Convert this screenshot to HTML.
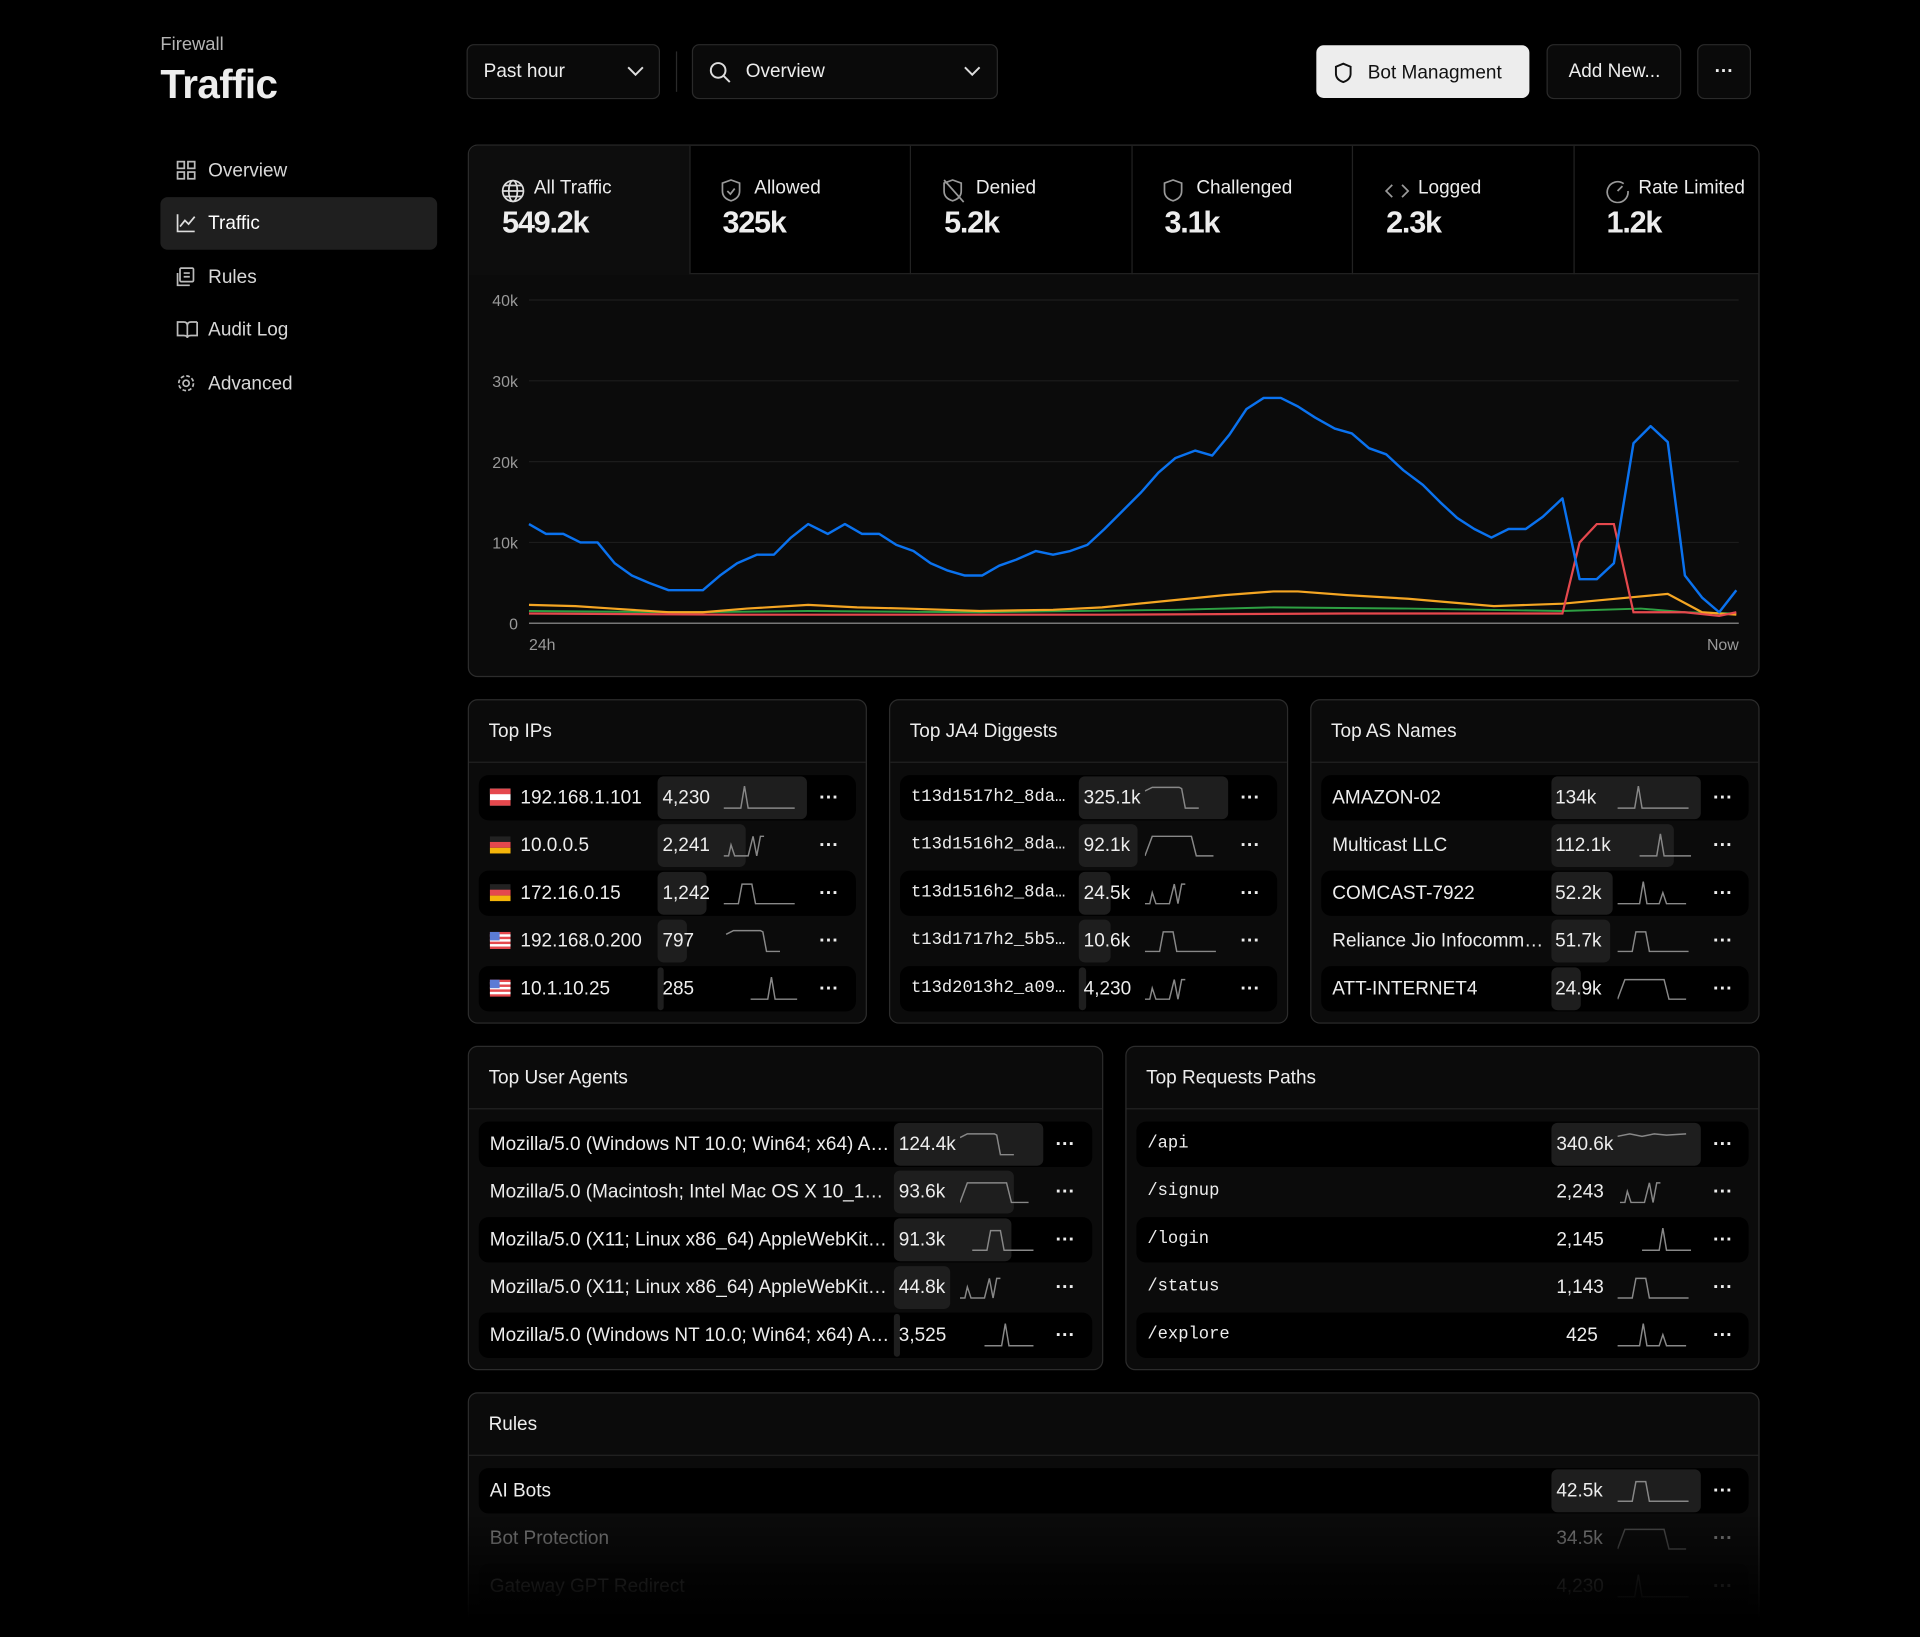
<!DOCTYPE html>
<html><head><meta charset="utf-8"><style>
*{margin:0;padding:0;box-sizing:border-box}
html,body{width:1920px;height:1637px;background:#000;overflow:hidden}
#w{position:absolute;left:0;top:0;width:1568px;height:1337px;transform:scale(1.22449);transform-origin:0 0;font-family:"Liberation Sans",sans-serif;color:#ededed}
.a{position:absolute}
.nav{position:absolute;left:131px;width:226px;height:43px;border-radius:6px;font-size:15.5px;color:#d8d8d8;line-height:43px;padding-left:39px}
.nav svg{position:absolute;left:13px;top:13px}
.btn{position:absolute;top:36px;height:45px;border:1px solid #2a2a2a;border-radius:6px;font-size:15.5px;line-height:43px;color:#ededed;background:#0a0a0a}
.card{position:absolute;background:#0b0b0b;border:1px solid #2c2c2c;border-radius:8px;overflow:hidden}
.hd{position:absolute;left:0;top:0;right:0;height:51px;border-bottom:1px solid #222;font-size:15.5px;line-height:51px;padding-left:16px}
.row{position:absolute;height:37px;border-radius:8px;font-size:15.5px;line-height:37px}
.row.o{background:#000}
.v{position:absolute;top:1px;height:35px;border-radius:5px;background:#1e1e1e}
.vt{position:absolute;top:0;font-size:15.5px}
.sp{position:absolute;top:8px}
.dots{position:absolute;top:0;font-size:16px;font-weight:bold}
.stat{position:absolute;top:0;height:105px;border-right:1px solid #222;width:181px}
.stat .l{position:absolute;left:27px;top:26px;font-size:15.5px;color:#ededed}
.stat .n{position:absolute;left:27px;top:49px;font-size:25px;font-weight:bold;letter-spacing:-1px}
.stat svg{position:absolute;left:26px;top:27px}
.mono{font-family:"Liberation Mono",monospace;font-size:14px}
</style></head><body><div id="w">
<div class="a" style="left:131px;top:28px;font-size:15px;color:#b5b5b5">Firewall</div>
<div class="a" style="left:131px;top:50px;font-size:33px;font-weight:bold;letter-spacing:-0.5px">Traffic</div>

<div class="nav" style="top:118px"><svg width="16" height="16" fill="none" stroke="#bbb" stroke-width="1.4"><rect x="1" y="1" width="5.5" height="5.5"/><rect x="9.5" y="1" width="5.5" height="5.5"/><rect x="1" y="9.5" width="5.5" height="5.5"/><rect x="9.5" y="9.5" width="5.5" height="5.5"/></svg>Overview</div>
<div class="nav" style="top:161px;background:#1f1f1f;color:#fff"><svg width="16" height="16" fill="none" stroke="#ddd" stroke-width="1.4"><path d="M1 1V15H15M3 11L7 6L10 9L15 3"/></svg>Traffic</div>
<div class="nav" style="top:205px"><svg width="16" height="16" fill="none" stroke="#bbb" stroke-width="1.4"><rect x="3" y="1" width="11" height="11" rx="1"/><path d="M1 5V15H11M6 5H11M6 8H11"/></svg>Rules</div>
<div class="nav" style="top:248px"><svg width="18" height="16" fill="none" stroke="#bbb" stroke-width="1.4"><path d="M1 2H6Q9 2 9 5V15Q9 13 6 13H1ZM17 2H12Q9 2 9 5M17 2V13H12Q9 13 9 15"/></svg>Audit Log</div>
<div class="nav" style="top:292px"><svg width="16" height="16" fill="none" stroke="#bbb" stroke-width="1.4"><circle cx="8" cy="8" r="2.5"/><circle cx="8" cy="8" r="6" stroke-dasharray="3 1.7"/></svg>Advanced</div>

<div class="btn" style="left:381px;width:158px;padding-left:13px">Past hour<svg class="a" style="left:130px;top:17px" width="14" height="9" fill="none" stroke="#ddd" stroke-width="1.6"><path d="M1 1L7 7L13 1"/></svg></div>
<div class="a" style="left:552px;top:42px;width:1px;height:33px;background:#2a2a2a"></div>
<div class="btn" style="left:565px;width:250px;padding-left:43px"><svg class="a" style="left:13px;top:13px" width="18" height="18" fill="none" stroke="#ddd" stroke-width="1.6"><circle cx="7.5" cy="7.5" r="6"/><path d="M12 12L17 17"/></svg>Overview<svg class="a" style="left:221px;top:17px" width="14" height="9" fill="none" stroke="#ddd" stroke-width="1.6"><path d="M1 1L7 7L13 1"/></svg></div>
<div class="btn" style="left:1075px;width:174px;top:37px;height:43px;line-height:43px;background:#ededed;color:#111;border-color:#ededed;padding-left:41px"><svg class="a" style="left:14px;top:13px" width="14" height="17" fill="none" stroke="#111" stroke-width="1.6"><path d="M7 1L13 3.5V9Q13 14 7 16Q1 14 1 9V3.5Z"/></svg>Bot Managment</div>
<div class="btn" style="left:1263px;width:110px;padding-left:17px">Add New...</div>
<div class="btn" style="left:1386px;width:44px;text-align:center;font-weight:bold">···</div>

<div class="card" style="left:382px;top:118px;width:1055px;height:435px;background:#0b0b0b">
 <div class="a" style="left:0;top:0;width:1055px;height:105px;background:#000;border-bottom:1px solid #222"></div>
 <div class="stat" style="left:0;background:#0d0d0d"><svg width="20" height="20" fill="none" stroke="#ddd" stroke-width="1.4"><circle cx="10" cy="10" r="8.5"/><ellipse cx="10" cy="10" rx="3.5" ry="8.5"/><path d="M1.5 10H18.5M3 5.5H17M3 14.5H17"/></svg><div class="l" style="left:53px">All Traffic</div><div class="n">549.2k</div></div>
 <div class="stat" style="left:180px"><svg width="18" height="20" fill="none" stroke="#999" stroke-width="1.4"><path d="M8 1L15 3.5V10Q15 16 8 18Q1 16 1 10V3.5Z"/><path d="M5 10L7.5 12.5L11 8"/></svg><div class="l" style="left:53px">Allowed</div><div class="n">325k</div></div>
 <div class="stat" style="left:361px"><svg width="18" height="20" fill="none" stroke="#999" stroke-width="1.4"><path d="M8 1L15 3.5V10Q15 16 8 18Q1 16 1 10V3.5Z"/><path d="M1 1L17 19"/></svg><div class="l" style="left:53px">Denied</div><div class="n">5.2k</div></div>
 <div class="stat" style="left:541px"><svg width="18" height="20" fill="none" stroke="#999" stroke-width="1.4"><path d="M8 1L15 3.5V10Q15 16 8 18Q1 16 1 10V3.5Z"/></svg><div class="l" style="left:53px">Challenged</div><div class="n">3.1k</div></div>
 <div class="stat" style="left:722px"><svg width="20" height="20" fill="none" stroke="#999" stroke-width="1.4"><path d="M6 5L1 10L6 15M14 5L19 10L14 15"/></svg><div class="l" style="left:53px">Logged</div><div class="n">2.3k</div></div>
 <div class="stat" style="left:902px;border-right:none"><svg width="20" height="20" fill="none" stroke="#999" stroke-width="1.4"><path d="M15 4A8.5 8.5 0 1 0 18.5 10"/><path d="M10 10L14 6"/></svg><div class="l" style="left:53px">Rate Limited</div><div class="n">1.2k</div></div>
</div>
<svg class="a" style="left:0;top:0" width="1568" height="560" font-family="Liberation Sans, sans-serif" font-size="13" fill="#9a9a9a">
 <g stroke="#1c1c1c" stroke-width="1"><line x1="432" y1="245" x2="1420" y2="245"/><line x1="432" y1="311" x2="1420" y2="311"/><line x1="432" y1="377" x2="1420" y2="377"/><line x1="432" y1="443" x2="1420" y2="443"/></g>
 <line x1="432" y1="509" x2="1420" y2="509" stroke="#777" stroke-width="1.2"/>
 <text x="423" y="250" text-anchor="end">40k</text><text x="423" y="316" text-anchor="end">30k</text><text x="423" y="382" text-anchor="end">20k</text><text x="423" y="448" text-anchor="end">10k</text><text x="423" y="514" text-anchor="end">0</text>
 <text x="432" y="531">24h</text><text x="1420" y="531" text-anchor="end">Now</text>
 <polyline fill="none" stroke="#2ea043" stroke-width="1.6" points="432,499 560,500 660,499 800,500 960,498 1040,496 1150,497 1276,499 1340,497 1376,500 1418,501"/>
 <polyline fill="none" stroke="#f5a623" stroke-width="1.8" points="432,494 470,495 500,497 546,500 574,500 610,497 660,494 700,496 740,497 800,499 860,498 900,496 960,490 1000,486 1040,483 1060,483 1100,486 1150,489 1220,495 1276,493 1330,488 1362,485 1390,500 1418,502"/>
 <polyline fill="none" stroke="#e5484d" stroke-width="1.8" points="432,501 600,502 900,502 1100,501 1276,501 1290,443 1304,428 1318,428 1334,500 1376,500 1404,503 1418,500"/>
 <polyline fill="none" stroke="#0a72ef" stroke-width="2" stroke-linejoin="round" points="432,428 446,436 460,436 474,443 488,443 502,460 516,470 530,476 546,482 560,482 574,482 588,470 602,460 618,453 632,453 646,439 660,428 676,436 690,428 704,436 718,436 732,445 746,450 760,460 774,466 788,470 802,470 816,462 830,457 846,450 860,453 874,450 888,445 902,432 916,418 932,402 946,386 960,374 976,368 990,372 1004,355 1018,334 1032,325 1046,325 1060,332 1074,341 1090,350 1104,354 1118,366 1132,371 1146,384 1162,396 1176,410 1190,423 1204,432 1218,439 1232,432 1246,432 1260,422 1276,407 1290,473 1304,473 1318,460 1334,362 1348,348 1362,361 1376,470 1390,488 1404,500 1418,482"/>
</svg>

<svg width="0" height="0" class="a"><defs>
<path id="A" d="M0 19H14L17 1L20 19H58" fill="none" stroke="#888" stroke-width="1.2"/>
<path id="B" d="M0 19H4L6 10L9 19H20L24 3L27 19L30 3H33" fill="none" stroke="#888" stroke-width="1.2"/>
<path id="C" d="M0 19H12L15 3H23L26 19H58" fill="none" stroke="#888" stroke-width="1.2"/>
<path id="D" d="M0 5L6 2H28L30 3L33 19H44" fill="none" stroke="#888" stroke-width="1.2"/>
<path id="E" d="M0 19L6 3H38L42 19H56" fill="none" stroke="#888" stroke-width="1.2"/>
<path id="F" d="M0 19H18L21 1L24 19H34L37 10L40 19H56" fill="none" stroke="#888" stroke-width="1.2"/>
</defs></svg>

<!-- Top IPs -->
<div class="card" style="left:382px;top:571px;width:326px;height:265px"><div class="hd">Top IPs</div>
<div class="row o" style="left:8px;top:61px;width:308px"><svg class="a" style="left:9px;top:11px" width="17" height="14"><rect width="17" height="14" fill="#fff"/><rect width="17" height="4.6" fill="#e5484d"/><rect y="9.4" width="17" height="4.6" fill="#e5484d"/></svg><span class="a" style="left:34px">192.168.1.101</span><div class="v" style="left:146px;width:122px"></div><span class="vt" style="left:150px">4,230</span><svg class="sp" style="left:200px" width="60" height="21"><use href="#A"/></svg><span class="dots" style="left:278px">···</span></div>
<div class="row" style="left:8px;top:100px;width:308px"><svg class="a" style="left:9px;top:11px" width="17" height="14"><rect width="17" height="5" fill="#222"/><rect y="4.6" width="17" height="4.8" fill="#e5484d"/><rect y="9.4" width="17" height="4.6" fill="#f5b50a"/></svg><span class="a" style="left:34px">10.0.0.5</span><div class="v" style="left:146px;width:72px"></div><span class="vt" style="left:150px">2,241</span><svg class="sp" style="left:200px" width="60" height="21"><use href="#B"/></svg><span class="dots" style="left:278px">···</span></div>
<div class="row o" style="left:8px;top:139px;width:308px"><svg class="a" style="left:9px;top:11px" width="17" height="14"><rect width="17" height="5" fill="#222"/><rect y="4.6" width="17" height="4.8" fill="#e5484d"/><rect y="9.4" width="17" height="4.6" fill="#f5b50a"/></svg><span class="a" style="left:34px">172.16.0.15</span><div class="v" style="left:146px;width:40px"></div><span class="vt" style="left:150px">1,242</span><svg class="sp" style="left:200px" width="60" height="21"><use href="#C"/></svg><span class="dots" style="left:278px">···</span></div>
<div class="row" style="left:8px;top:178px;width:308px"><svg class="a" style="left:9px;top:11px" width="17" height="14"><rect width="17" height="14" fill="#e5484d"/><rect y="2" width="17" height="2" fill="#fff"/><rect y="6" width="17" height="2" fill="#fff"/><rect y="10" width="17" height="2" fill="#fff"/><rect width="8" height="7" fill="#5b7bd5"/></svg><span class="a" style="left:34px">192.168.0.200</span><div class="v" style="left:146px;width:24px"></div><span class="vt" style="left:150px">797</span><svg class="sp" style="left:200px" width="60" height="21"><use href="#D" transform="translate(2,0)"/></svg><span class="dots" style="left:278px">···</span></div>
<div class="row o" style="left:8px;top:217px;width:308px"><svg class="a" style="left:9px;top:11px" width="17" height="14"><rect width="17" height="14" fill="#e5484d"/><rect y="2" width="17" height="2" fill="#fff"/><rect y="6" width="17" height="2" fill="#fff"/><rect y="10" width="17" height="2" fill="#fff"/><rect width="8" height="7" fill="#5b7bd5"/></svg><span class="a" style="left:34px">10.1.10.25</span><div class="v" style="left:146px;width:5px"></div><span class="vt" style="left:150px">285</span><svg class="sp" style="left:200px" width="60" height="21"><use href="#A" transform="translate(22,0)"/></svg><span class="dots" style="left:278px">···</span></div>
</div>

<!-- JA4 -->
<div class="card" style="left:726px;top:571px;width:326px;height:265px"><div class="hd">Top JA4 Diggests</div>
<div class="row o" style="left:8px;top:61px;width:308px"><span class="a mono" style="left:9px">t13d1517h2_8da…</span><div class="v" style="left:146px;width:122px"></div><span class="vt" style="left:150px">325.1k</span><svg class="sp" style="left:200px" width="60" height="21"><use href="#D"/></svg><span class="dots" style="left:278px">···</span></div>
<div class="row" style="left:8px;top:100px;width:308px"><span class="a mono" style="left:9px">t13d1516h2_8da…</span><div class="v" style="left:146px;width:48px"></div><span class="vt" style="left:150px">92.1k</span><svg class="sp" style="left:200px" width="60" height="21"><use href="#E"/></svg><span class="dots" style="left:278px">···</span></div>
<div class="row o" style="left:8px;top:139px;width:308px"><span class="a mono" style="left:9px">t13d1516h2_8da…</span><div class="v" style="left:146px;width:26px"></div><span class="vt" style="left:150px">24.5k</span><svg class="sp" style="left:200px" width="60" height="21"><use href="#B"/></svg><span class="dots" style="left:278px">···</span></div>
<div class="row" style="left:8px;top:178px;width:308px"><span class="a mono" style="left:9px">t13d1717h2_5b5…</span><div class="v" style="left:146px;width:26px"></div><span class="vt" style="left:150px">10.6k</span><svg class="sp" style="left:200px" width="60" height="21"><use href="#C"/></svg><span class="dots" style="left:278px">···</span></div>
<div class="row o" style="left:8px;top:217px;width:308px"><span class="a mono" style="left:9px">t13d2013h2_a09…</span><div class="v" style="left:146px;width:6px"></div><span class="vt" style="left:150px">4,230</span><svg class="sp" style="left:200px" width="60" height="21"><use href="#B"/></svg><span class="dots" style="left:278px">···</span></div>
</div>

<!-- AS -->
<div class="card" style="left:1070px;top:571px;width:367px;height:265px"><div class="hd">Top AS Names</div>
<div class="row o" style="left:8px;top:61px;width:349px"><span class="a" style="left:9px">AMAZON-02</span><div class="v" style="left:188px;width:122px"></div><span class="vt" style="left:191px">134k</span><svg class="sp" style="left:242px" width="60" height="21"><use href="#A"/></svg><span class="dots" style="left:320px">···</span></div>
<div class="row" style="left:8px;top:100px;width:349px"><span class="a" style="left:9px">Multicast LLC</span><div class="v" style="left:188px;width:100px"></div><span class="vt" style="left:191px">112.1k</span><svg class="sp" style="left:242px" width="60" height="21"><use href="#A" transform="translate(18,0)"/></svg><span class="dots" style="left:320px">···</span></div>
<div class="row o" style="left:8px;top:139px;width:349px"><span class="a" style="left:9px">COMCAST-7922</span><div class="v" style="left:188px;width:50px"></div><span class="vt" style="left:191px">52.2k</span><svg class="sp" style="left:242px" width="60" height="21"><use href="#F"/></svg><span class="dots" style="left:320px">···</span></div>
<div class="row" style="left:8px;top:178px;width:349px"><span class="a" style="left:9px">Reliance Jio Infocomm…</span><div class="v" style="left:188px;width:48px"></div><span class="vt" style="left:191px">51.7k</span><svg class="sp" style="left:242px" width="60" height="21"><use href="#C"/></svg><span class="dots" style="left:320px">···</span></div>
<div class="row o" style="left:8px;top:217px;width:349px"><span class="a" style="left:9px">ATT-INTERNET4</span><div class="v" style="left:188px;width:24px"></div><span class="vt" style="left:191px">24.9k</span><svg class="sp" style="left:242px" width="60" height="21"><use href="#E"/></svg><span class="dots" style="left:320px">···</span></div>
</div>

<!-- User Agents -->
<div class="card" style="left:382px;top:854px;width:519px;height:265px"><div class="hd">Top User Agents</div>
<div class="row o" style="left:8px;top:61px;width:501px"><span class="a" style="left:9px">Mozilla/5.0 (Windows NT 10.0; Win64; x64) A…</span><div class="v" style="left:339px;width:122px"></div><span class="vt" style="left:343px">124.4k</span><svg class="sp" style="left:393px" width="60" height="21"><use href="#D"/></svg><span class="dots" style="left:471px">···</span></div>
<div class="row" style="left:8px;top:100px;width:501px"><span class="a" style="left:9px">Mozilla/5.0 (Macintosh; Intel Mac OS X 10_1…</span><div class="v" style="left:339px;width:98px"></div><span class="vt" style="left:343px">93.6k</span><svg class="sp" style="left:393px" width="60" height="21"><use href="#E"/></svg><span class="dots" style="left:471px">···</span></div>
<div class="row o" style="left:8px;top:139px;width:501px"><span class="a" style="left:9px">Mozilla/5.0 (X11; Linux x86_64) AppleWebKit…</span><div class="v" style="left:339px;width:96px"></div><span class="vt" style="left:343px">91.3k</span><svg class="sp" style="left:393px" width="60" height="21"><use href="#C" transform="translate(10,0)"/></svg><span class="dots" style="left:471px">···</span></div>
<div class="row" style="left:8px;top:178px;width:501px"><span class="a" style="left:9px">Mozilla/5.0 (X11; Linux x86_64) AppleWebKit…</span><div class="v" style="left:339px;width:46px"></div><span class="vt" style="left:343px">44.8k</span><svg class="sp" style="left:393px" width="60" height="21"><use href="#B"/></svg><span class="dots" style="left:471px">···</span></div>
<div class="row o" style="left:8px;top:217px;width:501px"><span class="a" style="left:9px">Mozilla/5.0 (Windows NT 10.0; Win64; x64) A…</span><div class="v" style="left:339px;width:5px"></div><span class="vt" style="left:343px">3,525</span><svg class="sp" style="left:393px" width="60" height="21"><use href="#A" transform="translate(20,0)"/></svg><span class="dots" style="left:471px">···</span></div>
</div>

<!-- Paths -->
<div class="card" style="left:919px;top:854px;width:518px;height:265px"><div class="hd">Top Requests Paths</div>
<div class="row o" style="left:8px;top:61px;width:500px"><span class="a mono" style="left:9px">/api</span><div class="v" style="left:339px;width:122px"></div><span class="vt" style="left:343px">340.6k</span><svg class="sp" style="left:393px" width="60" height="21"><path d="M0 4L10 2L20 4L30 2L40 3L56 2" fill="none" stroke="#888" stroke-width="1.2"/></svg><span class="dots" style="left:471px">···</span></div>
<div class="row" style="left:8px;top:100px;width:500px"><span class="a mono" style="left:9px">/signup</span><span class="vt" style="left:343px">2,243</span><svg class="sp" style="left:393px" width="60" height="21"><use href="#B" transform="translate(2,0)"/></svg><span class="dots" style="left:471px">···</span></div>
<div class="row o" style="left:8px;top:139px;width:500px"><span class="a mono" style="left:9px">/login</span><span class="vt" style="left:343px">2,145</span><svg class="sp" style="left:393px" width="60" height="21"><use href="#A" transform="translate(20,0)"/></svg><span class="dots" style="left:471px">···</span></div>
<div class="row" style="left:8px;top:178px;width:500px"><span class="a mono" style="left:9px">/status</span><span class="vt" style="left:343px">1,143</span><svg class="sp" style="left:393px" width="60" height="21"><use href="#C"/></svg><span class="dots" style="left:471px">···</span></div>
<div class="row o" style="left:8px;top:217px;width:500px"><span class="a mono" style="left:9px">/explore</span><span class="vt" style="left:351px">425</span><svg class="sp" style="left:393px" width="60" height="21"><use href="#F"/></svg><span class="dots" style="left:471px">···</span></div>
</div>

<!-- Rules -->
<div class="card" style="left:382px;top:1137px;width:1055px;height:200px"><div class="hd">Rules</div>
<div class="row o" style="left:8px;top:61px;width:1037px"><span class="a" style="left:9px">AI Bots</span><div class="v" style="left:876px;width:122px"></div><span class="vt" style="left:880px">42.5k</span><svg class="sp" style="left:930px" width="60" height="21"><use href="#C"/></svg><span class="dots" style="left:1008px">···</span></div>
<div class="row" style="left:8px;top:100px;width:1037px;opacity:.5"><span class="a" style="left:9px">Bot Protection</span><span class="vt" style="left:880px">34.5k</span><svg class="sp" style="left:930px" width="60" height="21"><use href="#E"/></svg><span class="dots" style="left:1008px">···</span></div>
<div class="row o" style="left:8px;top:139px;width:1037px;opacity:.25"><span class="a" style="left:9px">Gateway GPT Redirect</span><span class="vt" style="left:880px">4,230</span><svg class="sp" style="left:930px" width="60" height="21"><use href="#A"/></svg><span class="dots" style="left:1008px">···</span></div>
</div>
<div class="a" style="left:370px;top:1235px;width:1080px;height:102px;background:linear-gradient(rgba(0,0,0,0),rgba(0,0,0,.6) 50%,#000 85%)"></div>
</div></body></html>
